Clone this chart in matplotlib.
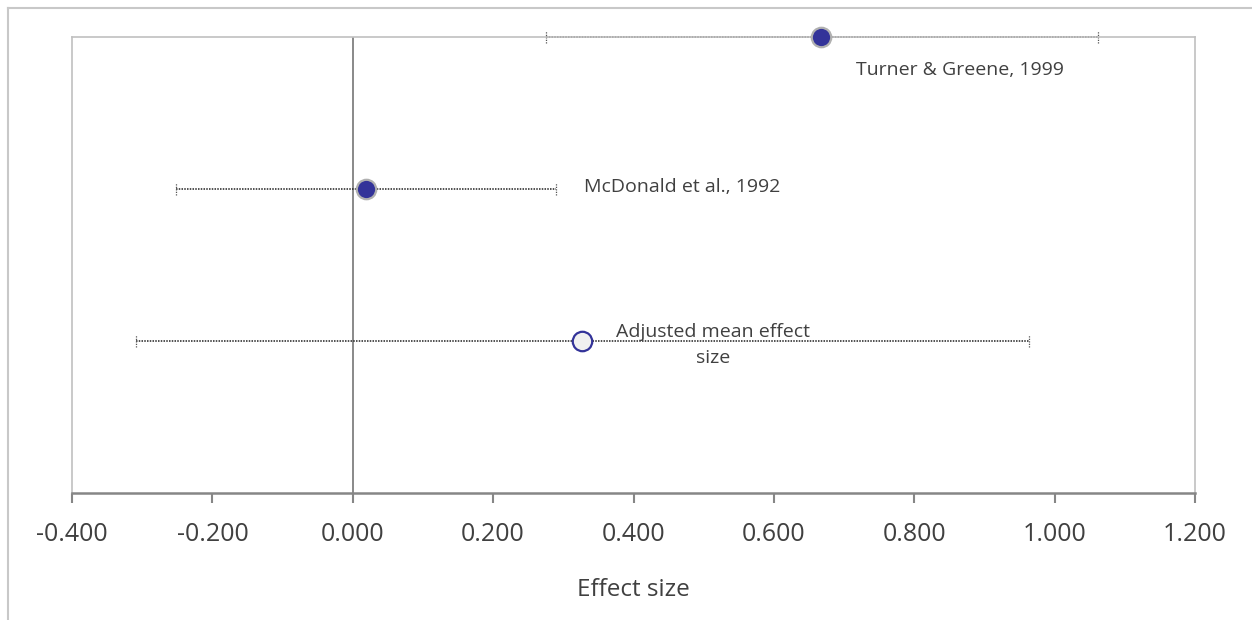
import numpy as np
import matplotlib.pyplot as plt
from matplotlib.lines import Line2D

# data
studies = ["Turner & Greene, 1999", "McDonald et al., 1992", "Adjusted mean effect\nsize"]
effect = [0.667, 0.019, 0.327]
ci_low = [0.275, -0.252, -0.309]
ci_high = [1.062, 0.290, 0.963]
ypos = [3, 2, 1]
xticks = [-0.4, -0.2, 0.0, 0.2, 0.4, 0.6, 0.8, 1.0, 1.2]

plt.rcParams['font.family'] = ['Open Sans', 'DejaVu Sans']
txt = '#404040'

fig = plt.figure(figsize=(12.52, 6.2), dpi=100)
ax = fig.add_axes([72/1252, 1-493/620, (1195-72)/1252, (493-37)/620])

# outer chart border (cropped)
fig.add_artist(Line2D([8/1252, 1], [1-8/620, 1-8/620], color='#c8c8c8', lw=1.5))
fig.add_artist(Line2D([8/1252, 8/1252], [0, 1-8/620], color='#c8c8c8', lw=1.5))

# zero line
ax.axvline(0, color='#808080', lw=1.3, zorder=1)

# confidence intervals
for i in range(len(studies)):
    ax.plot([ci_low[i], ci_high[i]], [ypos[i], ypos[i]], ls=(0, (1, 0.8)),
            color='#222222', lw=1.1, zorder=2, clip_on=False)
    for xc in (ci_low[i], ci_high[i]):
        ax.plot([xc, xc], [ypos[i] - 0.04, ypos[i] + 0.04], ls=(0, (1, 1)),
                color='#555555', lw=0.9, zorder=2, clip_on=False)

# study points
ax.plot(effect[:2], ypos[:2], 'o', ms=14, mfc='#333399', mec='#b0b0b0',
        mew=1.6, zorder=3, clip_on=False)
ax.plot(effect[2], ypos[2], 'o', ms=14, mfc='#f0f0f0', mec='#333399',
        mew=1.6, zorder=3, clip_on=False)

# data labels
ax.annotate(studies[0], (effect[0], ypos[0]), xytext=(139, -33),
            textcoords='offset pixels', ha='center', va='center',
            fontsize=14, color=txt)
ax.annotate(studies[1], (effect[1], ypos[1]), xytext=(218, 2),
            textcoords='offset pixels', ha='left', va='center',
            fontsize=14, color=txt)
ax.annotate(studies[2], (effect[2], ypos[2]), xytext=(131, -4),
            textcoords='offset pixels', ha='center', va='center',
            fontsize=14, color=txt, linespacing=1.55)

ax.set_xlim(-0.4, 1.2)
ax.set_ylim(0, 3)
ax.set_xticks(xticks)
ax.set_xticklabels([f"{v:.3f}" for v in xticks], fontsize=18, color=txt)
ax.set_yticks([])
ax.tick_params(axis='x', length=7, width=1.5, color='#868686', pad=14)
ax.set_xlabel("Effect size", fontsize=17.5, color=txt, labelpad=22)

for s in ['top', 'left', 'right']:
    ax.spines[s].set_color('#c0c0c0')
    ax.spines[s].set_linewidth(1.2)
ax.spines['bottom'].set_color('#868686')
ax.spines['bottom'].set_linewidth(1.8)

fig.savefig('out.png', dpi=100)
